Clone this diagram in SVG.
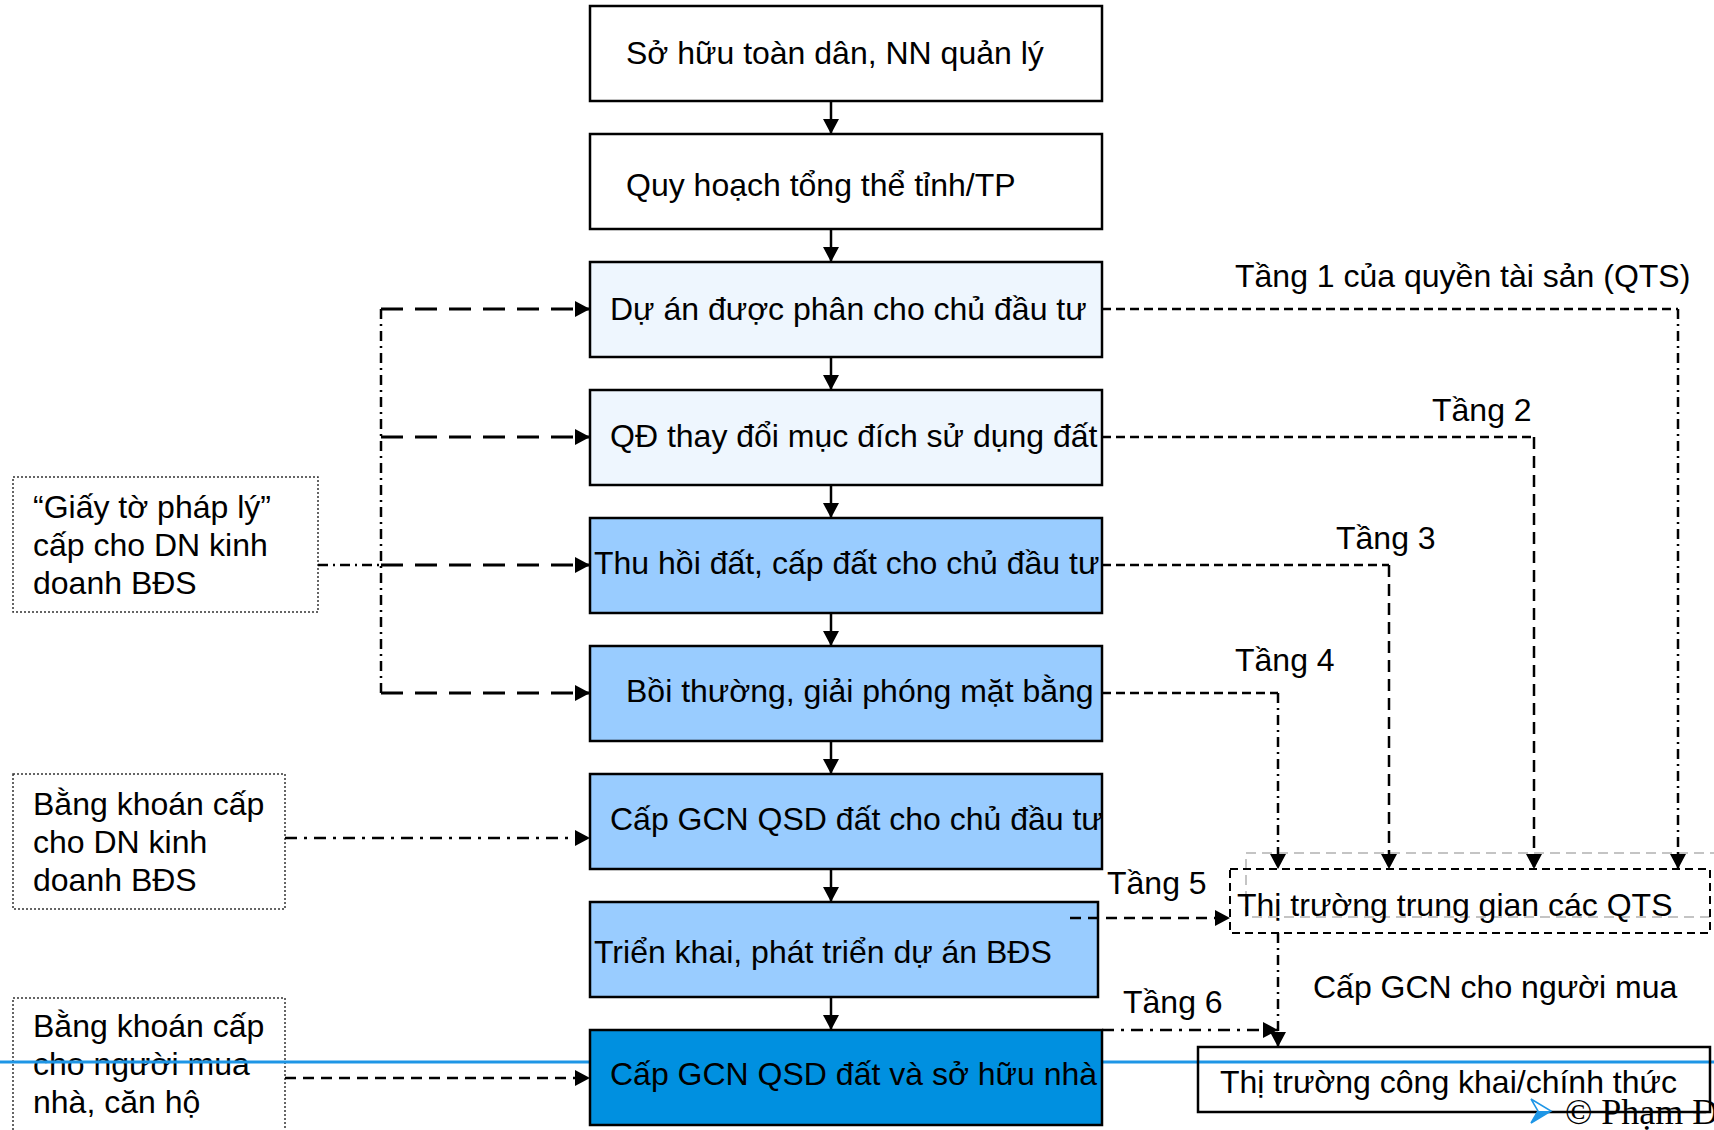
<svg xmlns="http://www.w3.org/2000/svg" width="1714" height="1130" viewBox="0 0 1714 1130">
<defs>
<style>
text{font-family:"Liberation Sans",Arial,sans-serif;font-size:32px;fill:#000}
.box{stroke:#000;stroke-width:2.5}
.w{fill:#fff}.lb{fill:#EEF6FE}.mb{fill:#99CCFF}.db{fill:#0090E0}
.note{fill:none;stroke:#333;stroke-width:1.5;stroke-dasharray:2 2}
.c{fill:none;stroke:#000}
.solid{stroke-width:2.5}
.ld{stroke-width:3;stroke-dasharray:22 12}
.dd{stroke-width:2.5;stroke-dasharray:10 5 2 5}
.dd2{stroke-width:2.5;stroke-dasharray:12 7 3 7}
.d2{stroke-width:2.5;stroke-dasharray:11 7}
.sd{stroke-width:2.5;stroke-dasharray:9 5}
.vd{stroke-width:2.5;stroke-dasharray:12 7}
.serif{font-family:"Liberation Serif","Times New Roman",serif;font-size:36px}
</style>
<marker id="ah" markerUnits="userSpaceOnUse" markerWidth="16" markerHeight="16" refX="15" refY="8" orient="auto">
<path d="M0,0 L15,8 L0,16 z" fill="#000"/>
</marker>
</defs>
<rect width="1714" height="1130" fill="#fff"/>

<g id="note-giay-to">
<rect class="note" x="13" y="477" width="305" height="135"/>
<text x="33" y="518">“Giấy tờ pháp lý”</text>
<text x="33" y="556">cấp cho DN kinh</text>
<text x="33" y="594">doanh BĐS</text>
</g>
<g id="note-bang-khoan-dn">
<rect class="note" x="13" y="774" width="272" height="135"/>
<text x="33" y="815">Bằng khoán cấp</text>
<text x="33" y="853">cho DN kinh</text>
<text x="33" y="891">doanh BĐS</text>
</g>
<g id="note-bang-khoan-mua">
<rect class="note" x="13" y="998" width="272" height="140"/>
<text x="33" y="1037">Bằng khoán cấp</text>
<text x="33" y="1075">cho người mua</text>
<text x="33" y="1113">nhà, căn hộ</text>
</g>

<line x1="0" y1="1062" x2="1714" y2="1062" stroke="#1E96E6" stroke-width="3"/>

<g id="n1"><rect class="box w" x="590" y="6" width="512" height="95"/><text x="626" y="64">Sở hữu toàn dân, NN quản lý</text></g>
<g id="n2"><rect class="box w" x="590" y="134" width="512" height="95"/><text x="626" y="196">Quy hoạch tổng thể tỉnh/TP</text></g>
<g id="n3"><rect class="box lb" x="590" y="262" width="512" height="95"/><text x="610" y="320">Dự án được phân cho chủ đầu tư</text></g>
<g id="n4"><rect class="box lb" x="590" y="390" width="512" height="95"/><text x="610" y="447">QĐ thay đổi mục đích sử dụng đất</text></g>
<g id="n5"><rect class="box mb" x="590" y="518" width="512" height="95"/><text x="594" y="574">Thu hồi đất, cấp đất cho chủ đầu tư</text></g>
<g id="n6"><rect class="box mb" x="590" y="646" width="512" height="95"/><text x="626" y="702">Bồi thường, giải phóng mặt bằng</text></g>
<g id="n7"><rect class="box mb" x="590" y="774" width="512" height="95"/><text x="610" y="830">Cấp GCN QSD đất cho chủ đầu tư</text></g>
<g id="n8"><rect class="box mb" x="590" y="902" width="508" height="95"/><text x="594" y="963">Triển khai, phát triển dự án BĐS</text></g>
<g id="n9"><rect class="box db" x="590" y="1030" width="512" height="95"/><text x="610" y="1085">Cấp GCN QSD đất và sở hữu nhà</text></g>

<g id="market-intermediate">
<rect x="1246" y="853" width="480" height="64" fill="none" stroke="#C4C4C4" stroke-width="2" stroke-dasharray="10 6"/>
<rect x="1230" y="869" width="480" height="64" fill="none" stroke="#000" stroke-width="2" stroke-dasharray="8 5"/>
<text x="1237" y="916">Thị trường trung gian các QTS</text>
</g>
<g id="market-public">
<rect x="1198" y="1047" width="512" height="65" fill="none" stroke="#000" stroke-width="2.5"/>
<text x="1220" y="1093">Thị trường công khai/chính thức</text>
</g>

<g id="connectors">
<path class="c solid" d="M831,101 V134" marker-end="url(#ah)"/>
<path class="c solid" d="M831,229 V262" marker-end="url(#ah)"/>
<path class="c solid" d="M831,357 V390" marker-end="url(#ah)"/>
<path class="c solid" d="M831,485 V518" marker-end="url(#ah)"/>
<path class="c solid" d="M831,613 V646" marker-end="url(#ah)"/>
<path class="c solid" d="M831,741 V774" marker-end="url(#ah)"/>
<path class="c solid" d="M831,869 V902" marker-end="url(#ah)"/>
<path class="c solid" d="M831,997 V1030" marker-end="url(#ah)"/>

<path class="c dd" d="M318,565 H381"/>
<path class="c dd" d="M381,309 V693"/>
<path class="c ld" d="M381,309 H590" marker-end="url(#ah)"/>
<path class="c ld" d="M381,437 H590" marker-end="url(#ah)"/>
<path class="c ld" d="M381,565 H590" marker-end="url(#ah)"/>
<path class="c ld" d="M381,693 H590" marker-end="url(#ah)"/>

<path class="c dd2" d="M285,838 H590" marker-end="url(#ah)"/>
<path class="c d2" d="M285,1078 H590" marker-end="url(#ah)"/>

<path class="c sd" d="M1102,309 H1678"/>
<path class="c dd" d="M1678,309 V869" marker-end="url(#ah)"/>
<path class="c sd" d="M1102,437 H1534"/>
<path class="c vd" d="M1534,437 V869" marker-end="url(#ah)"/>
<path class="c sd" d="M1102,565 H1389"/>
<path class="c vd" d="M1389,565 V869" marker-end="url(#ah)"/>
<path class="c sd" d="M1102,693 H1278"/>
<path class="c dd" d="M1278,693 V869" marker-end="url(#ah)"/>

<path class="c d2" d="M1070,918 H1230" marker-end="url(#ah)"/>
<path class="c dd" d="M1278,933 V1047" marker-end="url(#ah)"/>
<path class="c dd2" d="M1102,1030 H1278" marker-end="url(#ah)"/>
</g>

<g id="labels">
<text x="1235" y="287">Tầng 1 của quyền tài sản (QTS)</text>
<text x="1432" y="421">Tầng 2</text>
<text x="1336" y="549">Tầng 3</text>
<text x="1235" y="671">Tầng 4</text>
<text x="1107" y="894">Tầng 5</text>
<text x="1123" y="1013">Tầng 6</text>
<text x="1313" y="998">Cấp GCN cho người mua</text>
</g>

<g id="copyright">
<polygon points="1531,1099 1551,1111 1531,1123 1538,1111" fill="#fff" stroke="#1E96E6" stroke-width="1.5"/>
<polygon points="1538,1111 1551,1111 1531,1123" fill="#1E96E6"/>
<text class="serif" x="1565" y="1124">© Phạm Đ</text>
</g>
</svg>
